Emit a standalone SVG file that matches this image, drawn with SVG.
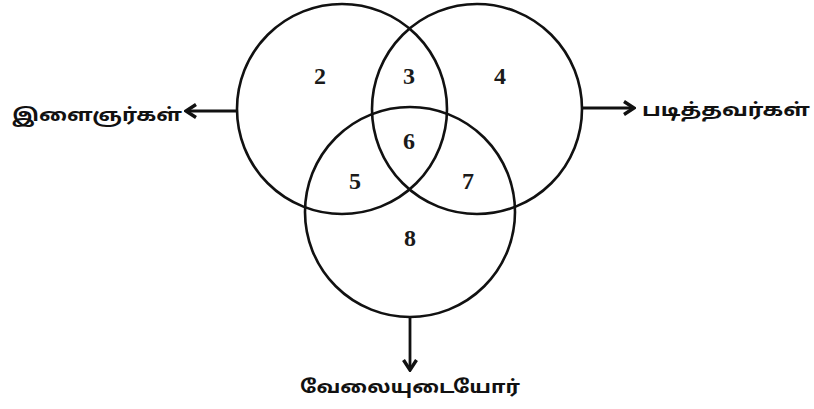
<svg xmlns="http://www.w3.org/2000/svg" width="814" height="409" viewBox="0 0 814 409">
<defs>
<marker id="ah" viewBox="0 0 14 16" refX="12" refY="8" markerWidth="14" markerHeight="16" markerUnits="userSpaceOnUse" orient="auto">
<path d="M2,1.5 L12,8 L2,14.5" fill="none" stroke="#111" stroke-width="3.4" stroke-linejoin="miter"/>
</marker>
<style>
.c{fill:none;stroke:#111;stroke-width:2.6}
.n{font-family:"Liberation Serif","DejaVu Serif",serif;font-size:24px;font-weight:bold;fill:#1a1a1a;text-anchor:middle}
.t{font-family:"Noto Sans Tamil","Noto Sans","DejaVu Sans",sans-serif;font-size:18px;font-weight:bold;fill:#111}
.a{fill:none;stroke:#111;stroke-width:2.8}
</style>
</defs>
<rect width="814" height="409" fill="#fff"/>
<g id="set-youth"><circle class="c" cx="342" cy="109" r="105"/></g>
<g id="set-educated"><circle class="c" cx="477" cy="109" r="105"/></g>
<g id="set-employed"><circle class="c" cx="410" cy="212" r="105"/></g>
<g id="regions">
<text class="n" x="320" y="84">2</text>
<text class="n" x="409" y="84">3</text>
<text class="n" x="500" y="84">4</text>
<text class="n" x="409" y="149">6</text>
<text class="n" x="355" y="189">5</text>
<text class="n" x="468" y="189">7</text>
<text class="n" x="410" y="246">8</text>
</g>
<g id="connectors">
<line class="a" x1="237" y1="111" x2="186" y2="111" marker-end="url(#ah)"/>
<line class="a" x1="582" y1="108" x2="634" y2="108" marker-end="url(#ah)"/>
<line class="a" x1="410" y1="317" x2="410" y2="370" marker-end="url(#ah)"/>
</g>
<g id="label-youth"><text class="t" x="12" y="121" textLength="170" lengthAdjust="spacingAndGlyphs">இளைஞர்கள்</text></g>
<g id="label-educated"><text class="t" x="642" y="116" textLength="168" lengthAdjust="spacingAndGlyphs">படித்தவர்கள்</text></g>
<g id="label-employed"><text class="t" x="300" y="393" textLength="220" lengthAdjust="spacingAndGlyphs">வேலையுடையோர்</text></g>
</svg>
